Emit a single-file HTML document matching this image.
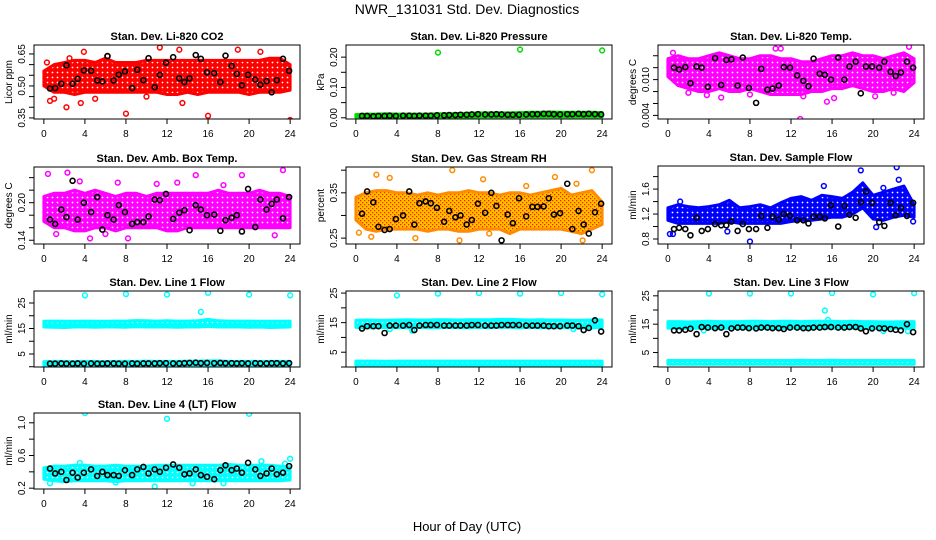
<!DOCTYPE html>
<html><head><meta charset="utf-8">
<style>
html,body{margin:0;padding:0;background:#fff;}
svg{display:block;font-family:"Liberation Sans",Arial,sans-serif;}
</style></head>
<body>
<svg id="chart" width="936" height="540" viewBox="0 0 936 540" xmlns="http://www.w3.org/2000/svg">
<defs>
<pattern id="pt-red" width="5" height="5" patternUnits="userSpaceOnUse"><rect width="5" height="5" fill="#ff0000"/><circle cx="2.5" cy="2.5" r="0.9" fill="#fff"/></pattern>
<pattern id="pt-green" width="5" height="5" patternUnits="userSpaceOnUse"><rect width="5" height="5" fill="#00dd00"/><circle cx="2.5" cy="2.5" r="0.9" fill="#fff"/></pattern>
<pattern id="pt-magenta" width="5" height="5" patternUnits="userSpaceOnUse"><rect width="5" height="5" fill="#ff00ff"/><circle cx="2.5" cy="2.5" r="0.9" fill="#fff"/></pattern>
<pattern id="pt-orange" width="4" height="4" patternUnits="userSpaceOnUse"><rect width="4" height="4" fill="#ffc000"/><rect x="0" y="0" width="1.3" height="1.3" fill="#ff2000"/><rect x="2" y="2" width="1.3" height="1.3" fill="#ff2000"/></pattern>
<pattern id="pt-blue" width="5" height="5" patternUnits="userSpaceOnUse"><rect width="5" height="5" fill="#0000ff"/><circle cx="2.5" cy="2.5" r="0.9" fill="#fff"/></pattern>
<pattern id="pt-cyan" width="5" height="5" patternUnits="userSpaceOnUse"><rect width="5" height="5" fill="#00ffff"/><circle cx="2.5" cy="2.5" r="0.8" fill="#fff"/></pattern>
</defs>
<text x="467" y="14" font-size="14" text-anchor="middle">NWR_131031  Std. Dev. Diagnostics</text>
<text x="467" y="531" font-size="13" text-anchor="middle">Hour of Day (UTC)</text>
</svg>
<script>
// ---- shared data ----
const hourTicks = [0,4,8,12,16,20,24];
const bandHours = [0,1,2,3,4,5,6,7,8,9,10,11,12,13,14,15,16,17,18,19,20,21,22,23,24];
const blackHours = [0.6,1.1,1.7,2.2,2.8,3.3,3.9,4.6,5.2,5.7,6.2,6.8,7.3,7.9,8.6,9.1,9.7,10.2,10.8,11.3,11.9,12.6,13.2,13.7,14.2,14.8,15.3,15.9,16.6,17.2,17.7,18.3,18.8,19.3,19.9,20.6,21.1,21.7,22.2,22.7,23.3,23.9];

// CO2
const co2Lo = [0.50,0.47,0.47,0.46,0.47,0.47,0.47,0.47,0.47,0.47,0.47,0.47,0.46,0.46,0.47,0.46,0.47,0.47,0.47,0.47,0.46,0.47,0.47,0.47,0.48];
const co2Hi = [0.57,0.60,0.61,0.62,0.62,0.61,0.63,0.61,0.61,0.61,0.62,0.62,0.62,0.62,0.62,0.62,0.62,0.62,0.62,0.62,0.62,0.62,0.63,0.63,0.60];
const co2OutH = [0.6,2.2,2.5,3.6,3.9,8.0,11.3,13.2,13.5,16.0,18.9,21.1,24.0,6.2,1.0,0.3,5.0,10.0];
const co2OutV = [0.43,0.40,0.63,0.42,0.66,0.37,0.68,0.67,0.42,0.36,0.67,0.66,0.34,0.64,0.44,0.61,0.44,0.45];
const co2Black = [0.488,0.49,0.51,0.597,0.51,0.533,0.573,0.571,0.526,0.521,0.64,0.526,0.553,0.568,0.49,0.576,0.527,0.63,0.494,0.552,0.609,0.635,0.536,0.518,0.536,0.645,0.627,0.564,0.56,0.518,0.642,0.594,0.556,0.503,0.552,0.53,0.506,0.523,0.47,0.527,0.627,0.571];

// Pressure
const presLo = [0.002,0.002,0.002,0.002,0.002,0.002,0.002,0.002,0.002,0.002,0.002,0.002,0.003,0.003,0.003,0.003,0.003,0.003,0.003,0.003,0.003,0.003,0.003,0.003,0.003];
const presHi = [0.011,0.012,0.012,0.013,0.012,0.012,0.012,0.012,0.013,0.013,0.014,0.015,0.016,0.016,0.016,0.016,0.017,0.018,0.018,0.019,0.018,0.018,0.018,0.018,0.017];
const presOutH = [8.0,16.0,24.0];
const presOutV = [0.215,0.225,0.222];
const presBlack = [0.006,0.006,0.005,0.006,0.006,0.007,0.006,0.007,0.007,0.006,0.007,0.007,0.007,0.008,0.008,0.009,0.009,0.010,0.010,0.011,0.012,0.011,0.011,0.012,0.011,0.010,0.010,0.010,0.011,0.012,0.012,0.013,0.013,0.012,0.011,0.012,0.012,0.013,0.012,0.013,0.012,0.011];

// Li-820 Temp
const tempLo = [0.0105,0.009,0.0085,0.008,0.008,0.0085,0.008,0.008,0.0085,0.008,0.0075,0.0075,0.0075,0.0075,0.008,0.008,0.0085,0.0085,0.009,0.0085,0.008,0.008,0.0085,0.008,0.0095];
const tempHi = [0.0135,0.014,0.0135,0.0135,0.014,0.0145,0.014,0.0135,0.0135,0.014,0.014,0.0135,0.0135,0.013,0.013,0.0135,0.014,0.014,0.0145,0.014,0.014,0.0135,0.014,0.0145,0.0135];
const tempOutH = [12.9,15.5,5.2,3.8,23.5,10.5,0.5,20.2,16.2,2.0,8.0,13.2,22.0,11.0];
const tempOutV = [0.0034,0.0063,0.0070,0.0074,0.0155,0.0152,0.0145,0.0072,0.0069,0.0078,0.0075,0.0072,0.0078,0.0152];
const tempBlack = [0.0120,0.0117,0.0121,0.0094,0.0122,0.0120,0.0088,0.0136,0.0091,0.0133,0.0134,0.0090,0.0137,0.0086,0.0061,0.0118,0.0083,0.0085,0.0090,0.0121,0.0120,0.0107,0.0098,0.0089,0.0135,0.0110,0.0108,0.0100,0.0137,0.0100,0.0122,0.0130,0.0077,0.0122,0.0122,0.0120,0.0130,0.0113,0.0106,0.0112,0.0130,0.0120];

// Amb box temp
const ambLo = [0.17,0.16,0.16,0.155,0.155,0.16,0.16,0.155,0.16,0.16,0.16,0.16,0.155,0.155,0.16,0.16,0.16,0.16,0.16,0.16,0.16,0.16,0.16,0.16,0.16];
const ambHi = [0.21,0.215,0.215,0.22,0.215,0.22,0.215,0.21,0.215,0.215,0.21,0.215,0.215,0.215,0.215,0.215,0.215,0.22,0.215,0.215,0.215,0.22,0.215,0.215,0.21];
const ambOutH = [0.4,2.3,3.5,4.5,7.2,8.2,13.0,14.8,19.3,23.3,1.2,22.5,6.0,17.5,11.0];
const ambOutV = [0.246,0.248,0.234,0.143,0.232,0.143,0.232,0.244,0.244,0.252,0.150,0.148,0.150,0.228,0.230];
const ambBlack = [0.173,0.166,0.189,0.177,0.235,0.173,0.200,0.185,0.209,0.157,0.180,0.173,0.196,0.185,0.166,0.169,0.169,0.178,0.205,0.204,0.214,0.174,0.184,0.188,0.156,0.196,0.189,0.180,0.181,0.155,0.172,0.176,0.180,0.154,0.222,0.161,0.205,0.189,0.198,0.205,0.175,0.209];

// Gas stream RH
const rhLo = [0.29,0.27,0.265,0.27,0.27,0.27,0.27,0.265,0.27,0.27,0.265,0.265,0.27,0.27,0.27,0.26,0.27,0.27,0.27,0.27,0.27,0.265,0.26,0.27,0.28];
const rhHi = [0.34,0.35,0.355,0.355,0.35,0.35,0.345,0.35,0.345,0.35,0.35,0.355,0.35,0.35,0.345,0.35,0.35,0.345,0.35,0.355,0.36,0.345,0.35,0.355,0.33];
const rhOutH = [2.0,3.3,0.3,9.4,10.1,12.4,16.6,19.4,23.0,13.0,22.1,1.5,5.8,21.5];
const rhOutV = [0.39,0.383,0.262,0.40,0.245,0.38,0.365,0.385,0.40,0.26,0.245,0.253,0.25,0.37];
const rhBlack = [0.304,0.353,0.329,0.275,0.268,0.27,0.292,0.30,0.353,0.28,0.327,0.331,0.327,0.317,0.286,0.31,0.296,0.30,0.28,0.29,0.326,0.306,0.35,0.321,0.245,0.302,0.283,0.338,0.298,0.319,0.319,0.32,0.338,0.302,0.305,0.37,0.27,0.31,0.28,0.26,0.307,0.326];

// Sample flow
const flowLo = [1.10,1.05,1.05,1.05,1.05,1.05,1.08,1.05,1.05,1.05,1.05,1.05,1.08,1.10,1.10,1.12,1.15,1.15,1.20,1.30,1.12,1.10,1.15,1.18,1.15];
const flowHi = [1.30,1.35,1.32,1.30,1.32,1.35,1.42,1.30,1.32,1.35,1.30,1.38,1.45,1.48,1.42,1.50,1.48,1.45,1.55,1.70,1.50,1.55,1.60,1.65,1.35];
const flowOutH = [0.2,0.5,8.0,5.8,18.8,22.3,22.5,20.3,23.9,1.2,15.2,21.0];
const flowOutV = [0.88,0.88,0.76,0.92,1.90,1.95,1.75,0.99,1.08,1.40,1.65,1.62];
const flowBlack = [0.96,0.98,0.96,0.86,1.14,0.93,0.96,1.04,1.02,1.02,1.08,0.93,1.04,0.96,0.96,1.17,0.98,1.16,1.11,1.20,1.17,1.10,1.10,1.05,1.16,1.16,1.13,1.34,1.00,1.33,1.19,1.14,1.39,1.56,1.38,1.07,1.01,1.38,1.18,1.30,1.17,1.38];

// Line 1 flow
const l1Lo = [15.6,15.5,15.4,15.6,15.6,15.5,15.6,15.6,15.5,15.7,15.6,15.6,15.6,15.5,15.6,15.6,15.8,15.6,15.6,15.6,15.5,15.6,15.4,15.5,15.6];
const l1Hi = [17.8,17.9,17.8,17.8,17.9,17.8,17.8,17.9,17.9,18.1,18.0,17.9,18.0,17.9,17.9,18.0,18.6,18.0,17.9,17.9,17.9,17.8,17.8,17.8,17.9];
const l1LowLo = [0.4,0.4,0.4,0.4,0.4,0.4,0.4,0.4,0.4,0.4,0.4,0.4,0.4,0.4,0.4,0.4,0.4,0.4,0.4,0.4,0.4,0.4,0.4,0.4,0.4];
const l1LowHi = [2.0,2.1,2.1,2.0,2.1,2.1,2.0,2.1,2.1,2.1,2.2,2.1,2.1,2.1,2.2,2.2,2.3,2.3,2.1,2.1,2.1,2.1,2.1,2.1,2.1];
const l1OutH = [4.0,8.0,12.0,16.0,20.0,24.0,15.3];
const l1OutV = [28.0,28.5,28.3,29.0,28.3,28.0,21.5];
const l1Black = [1.2,1.2,1.3,1.2,1.2,1.3,1.2,1.3,1.2,1.2,1.3,1.3,1.2,1.2,1.3,1.2,1.3,1.3,1.3,1.4,1.4,1.3,1.3,1.4,1.5,1.6,1.4,1.5,1.4,1.5,1.4,1.4,1.3,1.4,1.3,1.4,1.3,1.3,1.4,1.4,1.3,1.4];

// Line 2 flow
const l2Lo = [13.4,13.3,13.3,13.4,13.3,13.3,13.4,13.3,13.3,13.4,13.3,13.3,13.4,13.3,13.4,13.4,13.3,13.4,13.3,13.3,13.3,13.3,13.2,13.3,13.4];
const l2Hi = [15.8,15.9,15.8,15.8,15.9,16.0,15.9,15.9,16.0,16.0,15.9,16.0,16.0,16.0,16.1,16.1,16.0,15.9,16.0,15.9,15.9,15.8,15.8,15.9,15.9];
const l2LowLo = [0.6,0.6,0.6,0.6,0.6,0.6,0.6,0.6,0.6,0.6,0.6,0.6,0.6,0.6,0.6,0.6,0.6,0.6,0.6,0.6,0.6,0.6,0.6,0.6,0.6];
const l2LowHi = [2.0,2.0,2.0,1.9,2.0,2.0,2.0,2.0,2.0,2.0,2.0,2.0,2.0,2.0,2.0,2.0,2.0,2.0,2.0,2.0,2.0,2.0,2.0,2.0,2.0];
const l2OutH = [4.0,8.0,12.0,16.0,20.0,24.0,5.5,3.3,21.2];
const l2OutV = [24.2,24.8,25.0,24.8,25.0,24.6,12.3,12.8,12.8];
const l2Black = [13.0,13.8,13.8,13.8,11.5,14.0,14.0,14.0,14.2,12.5,14.0,14.2,14.2,14.2,14.0,14.0,14.0,14.0,14.0,14.2,14.2,14.0,14.0,14.0,14.2,14.2,14.2,14.2,14.0,14.0,14.0,14.0,13.8,13.8,13.8,14.0,14.0,13.8,12.5,13.2,15.8,12.0];

// Line 3 flow
const l3Lo = [13.6,13.5,13.5,13.6,13.5,13.5,13.6,13.5,13.5,13.6,13.5,13.5,13.6,13.5,13.6,13.6,13.5,13.6,13.5,13.5,13.5,13.5,13.5,13.5,13.6];
const l3Hi = [15.9,15.9,15.8,15.9,16.0,15.9,15.9,15.9,16.0,16.0,15.9,16.0,16.0,15.9,16.0,16.0,16.0,15.9,16.0,15.9,15.9,15.8,15.8,15.9,15.9];
const l3LowLo = [0.9,0.9,0.9,0.9,0.9,0.9,0.9,0.9,0.9,0.9,0.9,0.9,0.9,0.9,0.9,0.9,0.9,0.9,0.9,0.9,0.9,0.9,0.9,0.9,0.9];
const l3LowHi = [2.2,2.2,2.2,2.2,2.2,2.2,2.2,2.2,2.2,2.2,2.2,2.2,2.2,2.3,2.2,2.2,2.3,2.2,2.2,2.2,2.2,2.2,2.2,2.2,2.2];
const l3OutH = [4.0,8.0,12.0,16.0,20.0,24.0,15.3,15.6,3.5,21.0,23.4];
const l3OutV = [25.8,25.8,25.8,26.0,25.5,25.9,19.8,16.5,12.8,12.6,12.5];
const l3Black = [12.8,12.8,13.0,13.4,11.5,14.0,13.8,13.6,13.8,11.5,13.5,13.8,13.8,13.6,13.5,13.8,13.8,13.6,13.6,13.3,13.8,13.8,13.6,13.6,13.8,13.8,14.0,14.0,13.8,13.8,14.0,14.0,13.5,12.5,13.5,13.6,13.5,13.3,13.0,12.8,15.0,12.2];

// Line 4 flow
const l4Lo = [0.31,0.29,0.28,0.29,0.29,0.29,0.29,0.28,0.29,0.29,0.29,0.29,0.29,0.29,0.29,0.29,0.29,0.29,0.29,0.29,0.29,0.29,0.29,0.29,0.30];
const l4Hi = [0.45,0.47,0.47,0.48,0.48,0.47,0.47,0.48,0.47,0.47,0.47,0.48,0.48,0.48,0.48,0.48,0.48,0.48,0.49,0.48,0.48,0.48,0.48,0.47,0.46];
const l4OutH = [4.0,12.0,20.0,24.0,10.8,0.6,3.5,7.0,14.5,17.5,21.2,23.5];
const l4OutV = [1.12,1.05,1.11,0.56,0.22,0.26,0.51,0.27,0.26,0.26,0.53,0.50];
const l4Black = [0.44,0.38,0.40,0.30,0.39,0.33,0.39,0.43,0.35,0.40,0.36,0.36,0.35,0.42,0.36,0.43,0.46,0.38,0.43,0.40,0.45,0.49,0.45,0.37,0.38,0.43,0.36,0.34,0.31,0.42,0.48,0.42,0.44,0.39,0.51,0.43,0.35,0.38,0.44,0.37,0.39,0.47];

// y tick values / labels per panel
const co2Ticks = [0.35,0.40,0.45,0.50,0.55,0.60,0.65];
const co2Labels = ["0.35","","","0.50","","","0.65"];
const presTicks = [0,0.05,0.10,0.15,0.20];
const presLabels = ["0.00","","0.10","","0.20"];
const tempTicks = [0.004,0.006,0.008,0.010,0.012,0.014];
const tempLabels = ["0.004","","","0.010","",""];
const ambTicks = [0.14,0.16,0.18,0.20,0.22,0.24];
const ambLabels = ["0.14","","","0.20","",""];
const rhTicks = [0.25,0.30,0.35,0.40];
const rhLabels = ["0.25","","0.35",""];
const flowTicks = [0.8,1.0,1.2,1.4,1.6,1.8];
const flowLabels = ["0.8","","1.2","","1.6",""];
const lineTicks = [0,5,10,15,20,25];
const lineLabels = ["","5","","15","","25"];
const l1Ticks = [0,5,10,15,20,25];
const l4Ticks = [0.2,0.4,0.6,0.8,1.0];
const l4Labels = ["0.2","","0.6","","1.0"];

const svg = document.getElementById('chart');
const NS = 'http://www.w3.org/2000/svg';
function mk(tag, attrs, parent){
  const e = document.createElementNS(NS, tag);
  for (const k in attrs) e.setAttribute(k, attrs[k]);
  (parent||svg).appendChild(e);
  return e;
}

const panels = [
 {name:'co2', title:'Stan. Dev. Li-820 CO2', ylab:'Licor ppm', box:[34,45,266,74], y:[0.345,0.692], pat:'pt-red', col:'#ff0000',
  bands:[[co2Lo,co2Hi]], outH:co2OutH, outV:co2OutV, black:co2Black, ticks:co2Ticks, labels:co2Labels},
 {name:'pressure', title:'Stan. Dev. Li-820 Pressure', ylab:'kPa', box:[346,45,266,74], y:[-0.004,0.24], pat:'pt-green', col:'#00dd00',
  bands:[[presLo,presHi]], outH:presOutH, outV:presOutV, black:presBlack, ticks:presTicks, labels:presLabels},
 {name:'li820-temp', title:'Stan. Dev. Li-820 Temp.', ylab:'degrees C', box:[658,45,266,74], y:[0.0034,0.0158], pat:'pt-magenta', col:'#ff00ff',
  bands:[[tempLo,tempHi]], outH:tempOutH, outV:tempOutV, black:tempBlack, ticks:tempTicks, labels:tempLabels},
 {name:'amb-box-temp', title:'Stan. Dev. Amb. Box Temp.', ylab:'degrees C', box:[34,167,266,77], y:[0.134,0.257], pat:'pt-magenta', col:'#ff00ff',
  bands:[[ambLo,ambHi]], outH:ambOutH, outV:ambOutV, black:ambBlack, ticks:ambTicks, labels:ambLabels},
 {name:'gas-stream-rh', title:'Stan. Dev. Gas Stream RH', ylab:'percent', box:[346,167,266,77], y:[0.237,0.407], pat:'pt-orange', col:'#ff8c00',
  bands:[[rhLo,rhHi]], outH:rhOutH, outV:rhOutV, black:rhBlack, ticks:rhTicks, labels:rhLabels},
 {name:'sample-flow', title:'Stan. Dev. Sample Flow', ylab:'ml/min', box:[658,166,266,78], y:[0.72,1.97], pat:'pt-blue', col:'#0000ff',
  bands:[[flowLo,flowHi]], outH:flowOutH, outV:flowOutV, black:flowBlack, ticks:flowTicks, labels:flowLabels},
 {name:'line1-flow', title:'Stan. Dev. Line 1 Flow', ylab:'ml/min', box:[34,291,266,76], y:[-0.1,29.7], pat:'pt-cyan', col:'#00ffff',
  bands:[[l1Lo,l1Hi],[l1LowLo,l1LowHi]], outH:l1OutH, outV:l1OutV, black:l1Black, ticks:l1Ticks, labels:lineLabels},
 {name:'line2-flow', title:'Stan. Dev. Line 2 Flow', ylab:'ml/min', box:[346,291,266,76], y:[0,25.7], pat:'pt-cyan', col:'#00ffff',
  bands:[[l2Lo,l2Hi],[l2LowLo,l2LowHi]], outH:l2OutH, outV:l2OutV, black:l2Black, ticks:lineTicks, labels:lineLabels},
 {name:'line3-flow', title:'Stan. Dev. Line 3 Flow', ylab:'ml/min', box:[658,291,266,76], y:[-0.1,26.7], pat:'pt-cyan', col:'#00ffff',
  bands:[[l3Lo,l3Hi],[l3LowLo,l3LowHi]], outH:l3OutH, outV:l3OutV, black:l3Black, ticks:lineTicks, labels:lineLabels},
 {name:'line4-flow', title:'Stan. Dev. Line 4 (LT) Flow', ylab:'ml/min', box:[34,413,266,76], y:[0.19,1.12], pat:'pt-cyan', col:'#00ffff',
  bands:[[l4Lo,l4Hi]], outH:l4OutH, outV:l4OutV, black:l4Black, ticks:l4Ticks, labels:l4Labels}
];

panels.forEach(p=>{
  const [L,T,W,H] = p.box;
  const g = mk('g', {});
  
  
  const xs = h => L + (h + 0.96) / 25.92 * W;
  const ys = v => T + H - (v - p.y[0]) / (p.y[1] - p.y[0]) * H;
  const clipId = 'clip-' + p.name;
  const cp = mk('clipPath', {id: clipId}, g);
  mk('rect', {x:L, y:T, width:W, height:H}, cp);
  const plot = mk('g', {'clip-path':'url(#'+clipId+')'}, g);

  p.bands.forEach((b, bi)=>{
    const lo = b[0], hi = b[1];
    let d = '';
    bandHours.forEach((h,i)=>{ d += (i? 'L':'M') + xs(h).toFixed(1) + ',' + ys(hi[i]).toFixed(1); });
    for (let i = bandHours.length-1; i>=0; i--) d += 'L' + xs(bandHours[i]).toFixed(1) + ',' + ys(lo[i]).toFixed(1);
    d += 'Z';
    const band = mk('path', {d:d, fill:'url(#'+p.pat+')', stroke:p.col, 'stroke-width':3, 'stroke-linejoin':'round'}, plot);
    
    
  });
  p.outH.forEach((h,i)=>{
    const c = mk('circle', {cx:xs(h), cy:ys(p.outV[i]), r:2.4, fill:'none', stroke:p.col, 'stroke-width':1.5}, plot);
    
    
  });
  p.black.forEach((v,i)=>{
    const c = mk('circle', {cx:xs(blackHours[i]), cy:ys(v), r:2.5, fill:'none', stroke:'#000', 'stroke-width':1.6}, plot);
    
    
  });

  const fr = mk('rect', {x:L, y:T, width:W, height:H, fill:'none', stroke:'#000', 'stroke-width':1}, g);
  
  

  const t = mk('text', {x:L+W/2, y:T-5, 'font-size':11, 'font-weight':'bold', 'text-anchor':'middle'}, g);
  t.textContent = p.title;
  
  

  const xa = mk('g', {}, g);
  
  
  hourTicks.forEach(h=>{
    mk('line', {x1:xs(h), x2:xs(h), y1:T+H, y2:T+H+5, stroke:'#000'}, xa);
    const lt = mk('text', {x:xs(h), y:T+H+18, 'font-size':10, 'text-anchor':'middle'}, xa);
    lt.textContent = h;
    
    
  });

  const ya = mk('g', {}, g);
  
  
  p.ticks.forEach((v,i)=>{
    if (v < p.y[0]-1e-9 || v > p.y[1]+1e-9) return;
    mk('line', {x1:L-5, x2:L, y1:ys(v), y2:ys(v), stroke:'#000'}, ya);
    if (p.labels[i]) {
      const yl = mk('text', {x:0, y:0, 'font-size':10, 'text-anchor':'middle', transform:'translate('+(L-9)+','+ys(v)+') rotate(-90)'}, ya);
      yl.textContent = p.labels[i];
      
      
    }
  });
  const yt = mk('text', {x:0, y:0, 'font-size':10, 'text-anchor':'middle', transform:'translate('+(L-22)+','+(T+H/2)+') rotate(-90)'}, g);
  yt.textContent = p.ylab;
  
  
});
</script>
</body></html>
